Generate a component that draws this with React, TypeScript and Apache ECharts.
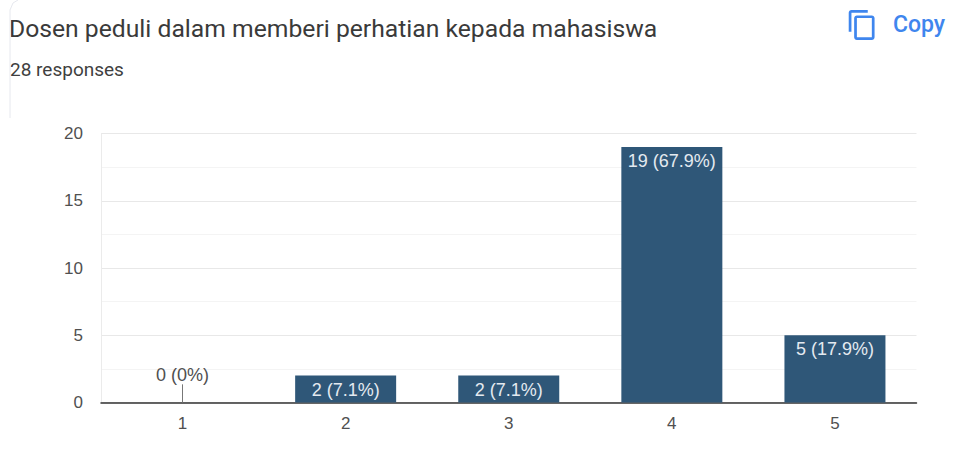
import React, { useEffect, useRef } from "react";
import * as echarts from "echarts";

const categories = ["1", "2", "3", "4", "5"];
const counts = [0, 2, 2, 19, 5];
const labels = ["0 (0%)", "2 (7.1%)", "2 (7.1%)", "19 (67.9%)", "5 (17.9%)"];
const yTicks = [0, 5, 10, 15, 20];
const leaderTop = 1.35;
const titleText = "Dosen peduli dalam memberi perhatian kepada mahasiswa";
const subtitleText = "28 responses";
const copyText = "Copy";

const FONT = "Roboto, 'Liberation Sans', sans-serif";
const AXIS_FONT = "'Liberation Sans', Arimo, sans-serif";

echarts.graphic.registerShape(
  "copyIcon",
  echarts.graphic.extendPath(
    "M16 1H4C2.9 1 2 1.9 2 3v14h2V3h12V1zm3 4H8C6.9 5 6 5.9 6 7v14c0 1.1.9 2 2 2h11c1.1 0 2-.9 2-2V7c0-1.1-.9-2-2-2zm0 16H8V7h11v14z",
    {}
  ) as any
);

export default function App() {
  const ref = useRef<HTMLDivElement>(null);
  useEffect(() => {
    document.body.style.margin = "0";
    const chart = echarts.init(ref.current!, undefined, { renderer: "svg" });
    chart.setOption({
      animation: false,
      backgroundColor: "#ffffff",
      grid: { left: 101, right: 53.5, top: 133.5, bottom: 70.5 },
      xAxis: {
        type: "category",
        data: categories,
        axisLine: { lineStyle: { color: "#333333", width: 1.5 } },
        axisTick: { show: false },
        axisLabel: { color: "#505050", fontSize: 17, fontFamily: AXIS_FONT, margin: 12 },
      },
      yAxis: {
        type: "value",
        min: 0,
        max: 20,
        interval: 5,
        axisLine: { show: true, lineStyle: { color: "#ebebeb" } },
        axisTick: { show: false },
        axisLabel: {
          color: "#505050",
          fontSize: 17,
          fontFamily: AXIS_FONT,
          margin: 18,
          formatter: (v: number) => (yTicks.includes(v) ? String(v) : ""),
        },
        splitLine: { show: true, lineStyle: { color: "#e8e8e8" } },
        minorTick: { show: false, splitNumber: 2 },
        minorSplitLine: { show: true, lineStyle: { color: "#f4f4f4" } },
      },
      series: [
        {
          type: "bar",
          barWidth: 101,
          data: counts.map((v) =>
            v === 0
              ? {
                  value: v,
                  label: { position: "top", distance: 19, color: "#505050" },
                }
              : v
          ),
          itemStyle: { color: "#2f5778" },
          label: {
            show: true,
            position: "insideTop",
            distance: 5,
            color: "#e4eaf0",
            fontSize: 18,
            fontFamily: AXIS_FONT,
            formatter: (p: any) => labels[p.dataIndex],
          },
          markLine: {
            silent: true,
            symbol: "none",
            label: { show: false },
            lineStyle: { color: "#777777", width: 1, type: "solid" },
            data: [
              [
                { xAxis: categories[0], yAxis: 0 },
                { xAxis: categories[0], yAxis: leaderTop },
              ],
            ],
          },
        },
      ],
      graphic: [
        {
          type: "text",
          x: 9,
          y: 16,
          style: { text: titleText, fill: "#3a3a3a", font: `24.7px ${FONT}` },
        },
        {
          type: "text",
          x: 10,
          y: 60,
          style: { text: subtitleText, fill: "#3f3f3f", font: `19px ${FONT}` },
        },
        {
          type: "copyIcon",
          x: 846,
          y: 8.6,
          scaleX: 1.36,
          scaleY: 1.36,
          style: { fill: "#3f86ee" },
        },
        {
          type: "text",
          x: 893,
          y: 13,
          style: { text: copyText, fill: "#3f86ee", font: `500 23px ${FONT}` },
        },
        {
          type: "polyline",
          shape: { points: [[10, 118], [10, 10], [13, 3], [18, 0]] },
          style: { stroke: "#e6e8ee", lineWidth: 1, fill: "none" },
        },
      ],
    });
    return () => chart.dispose();
  }, []);
  return <div ref={ref} style={{ width: 970, height: 473 }} />;
}
